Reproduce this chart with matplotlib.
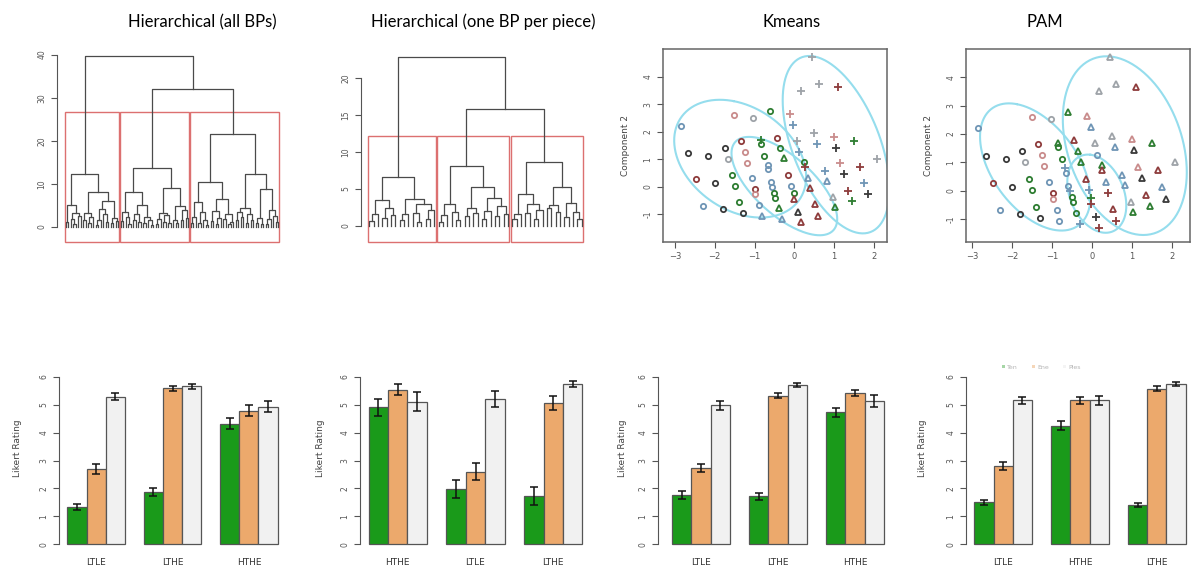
import matplotlib
matplotlib.use('Agg')
import matplotlib.pyplot as plt
from matplotlib.patches import Rectangle, Patch
import numpy as np

# ---------------- data ----------------
titles = ['Hierarchical (all BPs)', 'Hierarchical (one BP per piece)', 'Kmeans', 'PAM']

# dendrograms as nested [height, left, right], 0 = leaf
d1_a = [12.3,
        [5.2, [1.2, 0, 0], [3.3, [1.8, 0, [0.6, 0, 0]], [2.6, 0, 0]]],
        [8.2, [3.2, [1.5, 0, 0], [2.4, [0.9, 0, 0], 0]],
              [6.0, [4.1, [1.7, [0.5, 0, 0], 0], [2.9, 0, [1.1, 0, 0]]],
                    [2.0, [0.8, 0, 0], [1.3, 0, 0]]]]]
d1_b = [13.6,
        [8.0, [3.5, [1.4, 0, 0], [2.2, 0, [0.7, 0, 0]]],
              [5.2, [3.0, [1.6, 0, 0], [1.1, 0, 0]], [2.3, [0.9, 0, 0], [1.5, 0, [0.5, 0, 0]]]]],
        [9.0, [3.3, [1.8, [0.6, 0, 0], 0], [2.7, [1.2, 0, 0], [0.8, 0, 0]]],
              [4.8, [1.7, 0, [0.9, 0, 0]], [4.0, [1.5, 0, 0], [2.1, 0, 0]]]]]
d1_c = [21.5,
        [10.5, [5.8, [2.2, [0.8, 0, 0], 0], [3.5, [1.0, 0, 0], [1.6, 0, [0.5, 0, 0]]]],
               [6.5, [3.6, [1.4, 0, 0], [2.0, [0.7, 0, 0], 0]], [3.0, [1.9, 0, 0], [1.2, [0.6, 0, 0], 0]]]],
        [12.4, [4.3, [3.4, [1.5, 0, 0], [2.3, 0, 0]], [3.0, [0.9, 0, 0], [1.6, 0, 0]]],
               [8.8, [2.0, [1.0, 0, 0], [0.6, 0, 0]], [4.0, [1.8, [0.7, 0, 0], 0], [2.6, 0, [1.1, 0, 0]]]]]]
d1_root = [39.7, d1_a, [32.0, d1_b, d1_c]]

d2_a = [6.6,
        [3.5, [1.6, [0.7, 0, 0], 0], [2.4, [1.1, 0, 0], [1.5, 0, 0]]],
        [3.7, [1.6, [0.8, 0, 0], 0], [3.0, [1.7, 0, [0.6, 0, 0]], [2.2, [1.0, 0, 0], 0]]]]
d2_b = [8.1,
        [3.0, [1.5, [0.6, 0, 0], 0], [1.9, 0, [0.8, 0, 0]]],
        [5.3, [2.4, [1.3, 0, 0], [1.8, 0, 0]], [3.8, [2.0, [1.0, 0, 0], 0], [2.7, [1.4, 0, 0], [1.6, 0, 0]]]]]
d2_c = [8.6,
        [4.3, [1.6, [0.9, 0, 0], 0], [3.0, [1.8, 0, 0], [2.1, [1.0, 0, 0], 0]]],
        [5.3, [2.8, [2.4, 0, 0], [1.9, 0, 0]], [3.1, [1.2, 0, 0], [1.9, 0, [0.9, 0, 0]]]]]
d2_root = [22.8, d2_a, [15.8, d2_b, d2_c]]

# principal component scores of the pieces
pc_x = [-2.86, -2.66, -2.16, -1.74, -1.67, -1.51, -1.03, -0.61, -1.34, -1.25,
        -1.19, -2.48, -1.99, -1.57, -1.49, -1.07, -0.98, -0.98, -2.29, -1.80,
        -1.39, -1.30, -0.88, -0.84, -0.84, -0.76, -0.67, -0.65, -0.44, -0.35,
        -0.59, -0.56, -0.50, -0.48, -0.16, -0.08, -0.02, 0.24, -0.27, -0.02,
        0.34, 0.40, 0.53, 0.60, 0.82, 1.02, 0.09, 0.18, -0.31, -0.39,
        -0.82, 0.97, 0.45, 0.61, 1.10, 0.18, -0.12, -0.03, 0.08, 0.49,
        0.57, 0.13, 0.26, 0.99, 1.06, 1.50, 0.76, 1.16, 1.26, 1.66,
        2.07, 1.75, 1.34, 1.85, 1.44, 2.23]
pc_y = [2.21, 1.24, 1.12, 1.40, 1.02, 2.61, 2.51, 2.77, 1.66, 1.27,
        0.87, 0.28, 0.15, 0.42, 0.04, 0.30, -0.08, -0.27, -0.69, -0.83,
        -0.57, -0.95, -0.67, 1.54, 1.70, 1.13, 0.79, 0.63, 1.78, 1.40,
        0.18, 0.00, -0.22, -0.40, 0.42, 0.04, -0.24, 0.91, 1.03, -0.46,
        0.30, -0.06, -0.63, -1.06, 0.22, -0.75, -0.91, -1.30, -1.18, -0.79,
        -1.06, -0.39, 4.71, 3.76, 3.64, 3.50, 2.65, 2.25, 1.67, 1.94,
        1.54, 1.27, 0.73, 1.82, 1.42, 1.67, 0.57, 0.85, 0.46, 0.73,
        1.00, 0.12, -0.15, -0.27, -0.52, 0.00]
pt_col = list('bkkklplgrppr' 'kggbrpbkgkb' 'gggbbrgbbgg' 'rbggg' 'rbrrrbgkrbgb'
              'lllrlpbllbbrpkgbpkrlbrkg')
km_cl = [1] * 24 + [3] + [1] * 13 + [2] * 14 + [3] * 24
pam_cl = [1, 1, 1, 1, 1, 1, 1, 2, 1, 1, 1, 1, 1, 1, 1, 1, 1, 1, 1, 1,
          1, 1, 1, 1, 2, 1, 3, 1, 2, 2, 1, 3, 1, 1, 2, 3, 3, 2, 2, 3,
          2, 3, 2, 3, 2, 2, 3, 3, 3, 1, 1, 2, 2, 2, 2, 2, 2, 2, 2, 2,
          2, 1, 2, 2, 2, 2, 2, 2, 2, 2, 2, 2, 2, 2, 2, 2]
# ellipses: centre, two conjugate half-axis vectors
km_ell = [((-1.36, 1.02), (-0.17, 2.10), (1.65, -0.45)),
          ((-0.25, 0.02), (-0.57, 1.72), (1.20, -0.51)),
          ((1.05, 1.53), (-0.60, 3.23), (1.20, -0.20))]
pam_ell = [((-1.42, 0.84), (-0.46, 2.21), (1.30, -0.35)),
           ((0.12, -0.10), (-0.16, 1.37), (0.72, -0.12)),
           ((0.82, 1.59), (-0.39, 3.14), (1.50, -0.15))]

# likert ratings (Ten, Ene, Ples) per cluster
bar_groups = [['LTLE', 'LTHE', 'HTHE'], ['HTHE', 'LTLE', 'LTHE'],
              ['LTLE', 'LTHE', 'HTHE'], ['LTLE', 'HTHE', 'LTHE']]
ten_mean = [[1.33, 1.87, 4.32], [4.90, 1.97, 1.72], [1.77, 1.72, 4.72], [1.50, 4.25, 1.40]]
ene_mean = [[2.70, 5.58, 4.78], [5.53, 2.60, 5.05], [2.73, 5.32, 5.42], [2.80, 5.15, 5.57]]
ple_mean = [[5.29, 5.65, 4.93], [5.11, 5.20, 5.74], [4.97, 5.70, 5.13], [5.15, 5.15, 5.74]]
ten_err = [[0.10, 0.15, 0.20], [0.30, 0.32, 0.32], [0.15, 0.13, 0.15], [0.10, 0.15, 0.08]]
ene_err = [[0.18, 0.08, 0.20], [0.20, 0.30, 0.25], [0.15, 0.10, 0.12], [0.15, 0.12, 0.08]]
ple_err = [[0.12, 0.10, 0.20], [0.35, 0.30, 0.12], [0.15, 0.08, 0.20], [0.12, 0.15, 0.08]]
series = ['Ten', 'Ene', 'Ples']

# ---------------- style ----------------
W, H = 1192, 572
TREE_COL = '#4a4a4a'
RECT_COL = '#dc7070'
ELL_COL = '#95dded'
PT_COLS = {'k': '#3a3a3a', 'r': '#8e3c3c', 'g': '#2e7d32', 'b': '#6f95b5',
           'p': '#c98c8c', 'l': '#9ea3a8'}
MARKERS = {1: 'o', 2: '^', 3: '+'}
BAR_COLS = ['#1a9a1a', '#eca96c', '#f1f1f1']
TICK_COL = '#555555'

fig = plt.figure(figsize=(W / 100, H / 100), dpi=100)


def add_ax(x0, y0, x1, y1):
    return fig.add_axes([x0 / W, 1 - y1 / H, (x1 - x0) / W, (y1 - y0) / H])


def n_leaves(node):
    return 1 if node == 0 else n_leaves(node[1]) + n_leaves(node[2])


def heights(node):
    return [] if node == 0 else [node[0]] + heights(node[1]) + heights(node[2])


def draw_tree(ax, node, nxt):
    if node == 0:
        nxt[0] += 1
        return nxt[0], 0.0
    h, left, right = node
    xl, hl = draw_tree(ax, left, nxt)
    xr, hr = draw_tree(ax, right, nxt)
    ax.plot([xl, xl, xr, xr], [hl, h, h, hr], color=TREE_COL, lw=0.9)
    return (xl + xr) / 2, h


def r_yaxis(ax, ticks):
    ax.spines['left'].set_bounds(ticks[0], ticks[-1])
    ax.spines['left'].set_color(TICK_COL)
    ax.set_yticks(ticks)
    ax.set_yticklabels([str(t) for t in ticks], rotation=90, va='center')
    ax.tick_params(axis='y', labelsize=5.5, colors=TICK_COL, length=4, width=0.8)


def dendro_panel(ax, tree, clusters, ticks, ylim):
    draw_tree(ax, tree, [0])
    n = n_leaves(tree)
    ax.set_xlim(1 - 0.04 * (n - 1), n + 0.04 * (n - 1))
    ax.set_ylim(*ylim)
    hs = sorted(heights(tree), reverse=True)
    top = (hs[1] + hs[2]) / 2
    m = 0
    for cl in clusters:
        k = n_leaves(cl)
        ax.add_patch(Rectangle((m + 0.66, ylim[0]), k - 0.33, top - ylim[0],
                               fill=False, ec=RECT_COL, lw=1.0, clip_on=False))
        m += k
    for s in ['top', 'right', 'bottom']:
        ax.spines[s].set_visible(False)
    ax.set_xticks([])
    r_yaxis(ax, ticks)


def cluster_panel(ax, labels, ellipses, xlim, ylim):
    t = np.linspace(0, 2 * np.pi, 200)
    for (cx, cy), (ax_, ay_), (bx, by) in ellipses:
        ax.plot(cx + ax_ * np.cos(t) + bx * np.sin(t), cy + ay_ * np.cos(t) + by * np.sin(t),
                color=ELL_COL, lw=1.5)
    for x, y, c, lab in zip(pc_x, pc_y, pt_col, labels):
        mk = MARKERS[lab]
        ax.plot(x, y, marker=mk, ls='none', mfc='none', mec=PT_COLS[c],
                ms=5.5 if mk == '+' else 3.8, mew=1.3)
    ax.set_xlim(*xlim)
    ax.set_ylim(*ylim)
    for s in ax.spines.values():
        s.set_color('#666666')
        s.set_linewidth(1.1)
    ax.set_xticks(range(-3, 3))
    ax.tick_params(axis='x', labelsize=6, colors=TICK_COL, length=4, width=0.8)
    ax.set_yticks(range(-1, 5))
    ax.set_yticklabels([str(v) for v in range(-1, 5)], rotation=90, va='center')
    ax.tick_params(axis='y', labelsize=5.5, colors=TICK_COL, length=4, width=0.8)
    ax.set_ylabel('Component 2', fontsize=6.5, color='#444444', labelpad=10)


def bar_panel(ax, i, xlim, label_px, width_px, legend=False):
    means = [ten_mean[i], ene_mean[i], ple_mean[i]]
    errs = [ten_err[i], ene_err[i], ple_err[i]]
    for g in range(3):
        for s in range(3):
            left = 1 + 4 * g + s
            ax.bar(left, means[s][g], width=1, align='edge', color=BAR_COLS[s],
                   edgecolor='#555555', lw=0.9)
            ax.errorbar(left + 0.5, means[s][g], yerr=errs[s][g], color='#111111',
                        capsize=3.2, lw=1.1, capthick=1.1)
    ax.set_xlim(*xlim)
    ax.set_ylim(-0.24, 6.24)
    for s in ['top', 'right', 'bottom']:
        ax.spines[s].set_visible(False)
    ax.set_xticks([1 + 4 * g + 1.5 for g in range(3)])
    ax.set_xticklabels(bar_groups[i])
    ax.tick_params(axis='x', length=0, labelsize=6.5, colors='#333333', pad=5)
    r_yaxis(ax, list(range(7)))
    ax.set_ylabel('Likert Rating', fontsize=6.5, color='#444444')
    ax.yaxis.set_label_coords(-label_px / width_px, 0.57)
    if legend:
        handles = [Patch(fc=c, ec='none') for c in ['#a6d6a6', '#f5d6b8', '#f4f4f4']]
        ax.legend(handles, series, ncol=3, loc='lower center', bbox_to_anchor=(0.33, 0.97),
                  frameon=False, fontsize=4.5, labelcolor='#b5b5b5', handlelength=0.5,
                  handleheight=0.5, columnspacing=2.2, handletextpad=0.4)


# ---------------- top row ----------------
ax1 = add_ax(57, 49, 287, 242)
dendro_panel(ax1, d1_root, [d1_a, d1_b, d1_c], [0, 10, 20, 30, 40], (-3.5, 41.3))
ax2 = add_ax(361, 49, 590, 242)
dendro_panel(ax2, d2_root, [d2_a, d2_b, d2_c], [0, 5, 10, 15, 20], (-2.16, 23.9))
ax3 = add_ax(663, 49, 887, 242)
cluster_panel(ax3, km_cl, km_ell, (-3.30, 2.33), (-2.02, 5.02))
ax4 = add_ax(966, 49, 1190, 242)
cluster_panel(ax4, pam_cl, pam_ell, (-3.15, 2.45), (-1.80, 4.99))

for x, t in zip([202, 483, 792, 1045], titles):
    fig.text(x / W, 1 - 22 / H, t, ha='center', va='center', fontsize=12, family='Lato')

# ---------------- bottom row ----------------
bx1 = add_ax(59, 370, 286, 551)
bar_panel(bx1, 0, (0.56, 12.44), 37, 227)
bx2 = add_ax(360, 370, 591, 551)
bar_panel(bx2, 1, (0.56, 12.44), 35, 231)
bx3 = add_ax(658, 370, 893, 551)
bar_panel(bx3, 2, (0.27, 12.47), 31, 235)
bx4 = add_ax(966, 370, 1194, 551)
bar_panel(bx4, 3, (0.56, 12.44), 39, 228, legend=True)

fig.savefig('out.png', dpi=100)
